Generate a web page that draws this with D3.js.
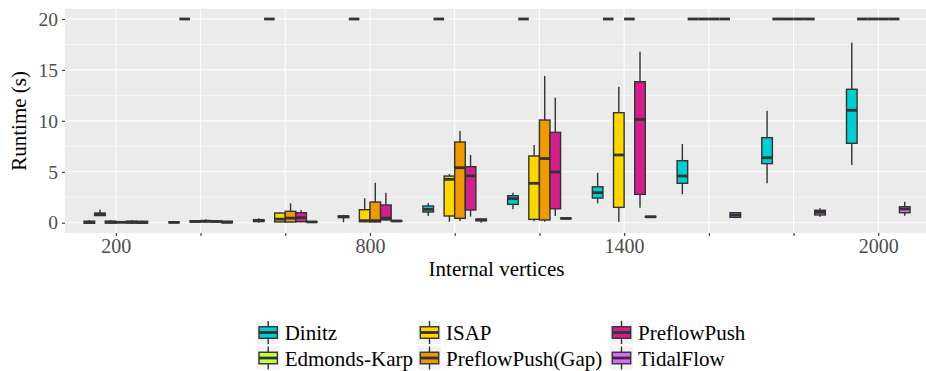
<!DOCTYPE html>
<html><head><meta charset="utf-8">
<script src="https://cdn.jsdelivr.net/npm/d3@7"></script>
<style>body{margin:0;background:#fff}svg{display:block}text{font-family:"Liberation Serif","Times New Roman",serif}</style>
</head><body><svg id="c" width="926" height="371"></svg>
<script>
// categories (internal vertices)
const categories = [200,400,600,800,1000,1200,1400,1600,1800,2000];
const xTickLabels = {200:"200",800:"800",1400:"1400",2000:"2000"};
const yTicks = [0,5,10,15,20];
const algorithms = ["Dinitz","Edmonds-Karp","ISAP","PreflowPush(Gap)","PreflowPush","TidalFlow"];
const colors = ["#00CED1","#C0FF3E","#FFD700","#EE9A00","#D11F8C","#E066FF"];
// five-number summaries [lowerWhisker, q1, median, q3, upperWhisker] per category
const T = [20,20,20,20,20];
const dinitz = [[-0.12,-0.05,0.03,0.15,0.25],[0.01,0.02,0.03,0.05,0.06],[0,0.12,0.2,0.3,0.45],[0.05,0.5,0.6,0.66,0.7],[0.66,1.05,1.31,1.64,1.9],[1.31,1.8,2.36,2.65,2.95],[1.9,2.42,2.95,3.53,4.91],[2.79,3.87,4.59,6.09,7.73],[3.87,5.8,6.38,8.35,11.0],[5.67,7.8,11.04,13.1,17.67]];
const edmondsKarp = [[0.65,0.7,0.82,0.95,1.3],T,T,T,T,T,T,T,T,T];
const isap = [[-0.1,-0.03,0.05,0.15,0.25],[0.05,0.08,0.12,0.17,0.22],[0.02,0.08,0.35,0.95,1.0],[0.05,0.1,0.2,1.28,2.4],[0.1,0.66,4.26,4.58,4.78],[0.17,0.33,3.87,6.55,7.63],[0.1,1.51,6.65,10.8,13.35],T,T,T];
const preflowPushGap = [[0,0.02,0.04,0.06,0.1],[0.05,0.1,0.15,0.2,0.35],[0.03,0.07,0.45,1.12,1.9],[0.05,0.08,0.2,2.03,3.93],[0.17,0.43,5.4,7.92,9.0],[0.1,0.27,6.3,10.08,14.4],T,T,T,T];
const preflowPush = [[-0.1,-0.03,0.05,0.15,0.25],[0.05,0.08,0.12,0.17,0.22],[0.05,0.1,0.5,0.98,1.25],[0.2,0.27,0.45,1.74,2.95],[0.6,1.25,4.6,5.5,6.65],[0.66,1.37,4.98,8.87,12.27],[1.47,2.79,10.15,13.84,16.79],T,T,T];
const tidalFlow = [[-0.1,-0.04,0.03,0.14,0.22],[-0.05,0.0,0.05,0.14,0.2],[0.05,0.07,0.08,0.1,0.12],[0.12,0.14,0.17,0.2,0.22],[0,0.2,0.28,0.35,0.38],[0.38,0.4,0.42,0.44,0.46],[0.48,0.55,0.58,0.62,0.68],[0.45,0.53,0.75,0.98,1.05],[0.59,0.76,1.02,1.22,1.41],[0.69,0.98,1.35,1.57,2.06]];
const seriesData = [dinitz, edmondsKarp, isap, preflowPushGap, preflowPush, tidalFlow];

const svg = d3.select("#c");
const P = {l:65, r:929.1, t:8.8, b:232.9};
const x = d3.scaleLinear().domain([80,2120]).range([P.l,P.r]);
const y = d3.scaleLinear().domain([-1,21]).range([P.b,P.t]);

svg.append("rect").attr("x",P.l).attr("y",P.t).attr("width",P.r-P.l).attr("height",P.b-P.t).attr("fill","#EBEBEB");
const grid = svg.append("g");
[2.5,7.5,12.5,17.5].forEach(v=>grid.append("line").attr("x1",P.l).attr("x2",P.r).attr("y1",y(v)).attr("y2",y(v)).attr("stroke","#fff").attr("stroke-width",0.55));
yTicks.forEach(v=>grid.append("line").attr("x1",P.l).attr("x2",P.r).attr("y1",y(v)).attr("y2",y(v)).attr("stroke","#fff").attr("stroke-width",1.1));
categories.forEach(v=>grid.append("line").attr("x1",x(v)).attr("x2",x(v)).attr("y1",P.t).attr("y2",P.b).attr("stroke","#fff").attr("stroke-width",1.1));

// boxes
const dodge = 200*0.75, slot = dodge/algorithms.length;
const boxes = svg.append("g");
seriesData.forEach((ser,i)=>{
  ser.forEach((s,j)=>{
    const c = categories[j] + (i-(algorithms.length-1)/2)*slot;
    const cx = x(c), x0 = x(c-slot/2), x1 = x(c+slot/2);
    const [lw,q1,md,q3,uw] = s;
    const g = boxes.append("g");
    g.append("line").attr("x1",cx).attr("x2",cx).attr("y1",y(uw)).attr("y2",y(q3)).attr("stroke","#333").attr("stroke-width",1.4);
    g.append("line").attr("x1",cx).attr("x2",cx).attr("y1",y(q1)).attr("y2",y(lw)).attr("stroke","#333").attr("stroke-width",1.4);
    g.append("rect").attr("x",x0).attr("y",y(q3)).attr("width",x1-x0).attr("height",Math.max(0,y(q1)-y(q3))).attr("fill",colors[i]).attr("stroke","#333").attr("stroke-width",1.4);
    g.append("line").attr("x1",x0).attr("x2",x1).attr("y1",y(md)).attr("y2",y(md)).attr("stroke","#333").attr("stroke-width",2.8);
  });
});

// axes
const ya = svg.append("g").attr("transform",`translate(${P.l},0)`).call(d3.axisLeft(y).tickValues(yTicks).tickSize(3).tickPadding(4));
const xa = svg.append("g").attr("transform",`translate(0,${P.b})`).call(d3.axisBottom(x).tickValues(categories).tickSize(3).tickPadding(3).tickFormat(d=>xTickLabels[d]||""));
[ya,xa].forEach(a=>{a.select(".domain").remove();a.selectAll(".tick line").attr("stroke","#333").attr("stroke-width",1.1);a.selectAll("text").attr("fill","#4D4D4D").style("font-family","'Liberation Serif',serif");});
ya.selectAll("text").style("font-size","19.5px");
xa.selectAll("text").style("font-size","20px");

svg.append("text").attr("transform",`translate(26,${(P.t+P.b)/2}) rotate(-90)`).attr("text-anchor","middle").style("font-size","21px").attr("fill","#000").text("Runtime (s)");
svg.append("text").attr("x",(P.l+878+50)/2).attr("y",276).attr("text-anchor","middle").style("font-size","21px").attr("fill","#000").text("Internal vertices");

// legend
const legendCols = [256.7,418,610];
const legendRows = [321,346.5];
const ks = 23;
algorithms.forEach((a,i)=>{
  const col = Math.floor(i/2), row = i%2;
  const lx = legendCols[col], ly = legendRows[row];
  const g = svg.append("g").attr("transform",`translate(${lx},${ly})`);
  g.append("rect").attr("width",ks).attr("height",ks).attr("fill","#F2F2F2");
  g.append("line").attr("x1",ks/2).attr("x2",ks/2).attr("y1",0).attr("y2",ks).attr("stroke","#333").attr("stroke-width",1.4);
  g.append("rect").attr("x",ks*0.1).attr("y",ks*0.25).attr("width",ks*0.8).attr("height",ks*0.5).attr("fill",colors[i]).attr("stroke","#333").attr("stroke-width",1.4);
  g.append("line").attr("x1",ks*0.1).attr("x2",ks*0.9).attr("y1",ks/2).attr("y2",ks/2).attr("stroke","#333").attr("stroke-width",2.8);
  svg.append("text").attr("x",lx+ks+5).attr("y",ly+19).style("font-size","21px").attr("fill","#000").text(a);
});
</script></body></html>
